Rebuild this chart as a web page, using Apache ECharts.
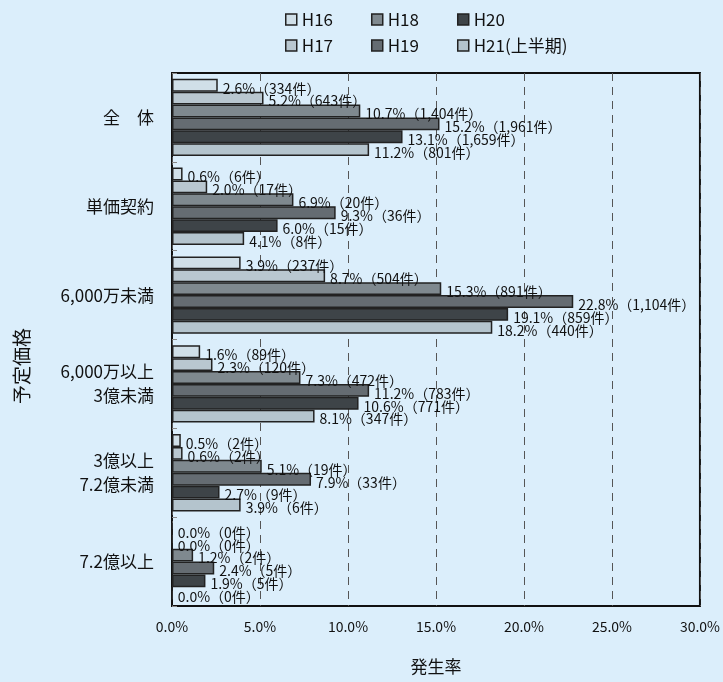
<!DOCTYPE html>
<html>
<head>
<meta charset="utf-8">
<script src="https://cdn.jsdelivr.net/npm/echarts@6/dist/echarts.min.js"></script>
<style>
  html, body { margin: 0; padding: 0; background: #dbeefb; }
  #main { width: 723px; height: 682px; }
</style>
</head>
<body>
<div id="main"></div>
<script>
// 予定価格の区分
var categories = ['全\u3000体', '単価契約', '6,000万未満', '6,000万以上\n3億未満', '3億以上\n7.2億未満', '7.2億以上'];
var seriesNames = ['H16', 'H17', 'H18', 'H19', 'H20', 'H21(上半期)'];
// 発生率(%)
var rateH16 = [2.6, 0.6, 3.9, 1.6, 0.5, 0.0];
var rateH17 = [5.2, 2.0, 8.7, 2.3, 0.6, 0.0];
var rateH18 = [10.7, 6.9, 15.3, 7.3, 5.1, 1.2];
var rateH19 = [15.2, 9.3, 22.8, 11.2, 7.9, 2.4];
var rateH20 = [13.1, 6.0, 19.1, 10.6, 2.7, 1.9];
var rateH21 = [11.2, 4.1, 18.2, 8.1, 3.9, 0.0];
// 件数
var countH16 = ['334', '6', '237', '89', '2', '0'];
var countH17 = ['643', '17', '504', '120', '2', '0'];
var countH18 = ['1,404', '20', '891', '472', '19', '2'];
var countH19 = ['1,961', '36', '1,104', '783', '33', '5'];
var countH20 = ['1,659', '15', '859', '771', '9', '5'];
var countH21 = ['801', '8', '440', '347', '6', '0'];
var xTicks = ['0.0%', '5.0%', '10.0%', '15.0%', '20.0%', '25.0%', '30.0%'];

var rates = [rateH16, rateH17, rateH18, rateH19, rateH20, rateH21];
var counts = [countH16, countH17, countH18, countH19, countH20, countH21];
var colors = ['#d0dfe8', '#b9c7d0', '#7f898f', '#656c72', '#3e4448', '#b4c4cd'];

var font = '"Noto Sans CJK JP", "Noto Sans", sans-serif';

var series = []
for (var i = 0; i < seriesNames.length; i++) {
  (function (k) {
    series.push({
      name: seriesNames[k],
      type: 'bar',
      barGap: '0%',
      barCategoryGap: '13%',
      itemStyle: {
        color: colors[k],
        borderColor: '#222',
        borderWidth: 1.5
      },
      label: {
        show: true,
        position: 'right',
        distance: 5,
        offset: [0, 3],
        color: '#111',
        fontFamily: font,
        fontSize: 14,
        formatter: function (p) {
          return rates[k][p.dataIndex].toFixed(1) + '%（' + counts[k][p.dataIndex] + '件）'
        }
      },
      data: rates[k]
    })
  })(i)
}

var chart = echarts.init(document.getElementById('main'));
var legendCommon = {
  left: 280,
  itemWidth: 11,
  itemHeight: 11,
  itemGap: 38,
  icon: 'rect',
  itemStyle: { borderColor: '#222', borderWidth: 1.5 },
  textStyle: { fontFamily: font, fontSize: 17, color: '#111' }
}
var option = {
  backgroundColor: '#dbeefb',
  animation: false,
  legend: [
    Object.assign({ top: 6, data: [seriesNames[0], seriesNames[2], seriesNames[4]] }, legendCommon),
    Object.assign({ top: 32, data: [seriesNames[1], seriesNames[3], seriesNames[5]] }, legendCommon)
  ],
  grid: {
    left: 172,
    right: 22,
    top: 73,
    bottom: 76,
    show: true,
    borderColor: '#111',
    borderWidth: 2,
    backgroundColor: 'transparent'
  },
  xAxis: {
    type: 'value',
    min: 0,
    max: 30,
    interval: 5,
    name: '発生率',
    nameLocation: 'middle',
    nameGap: 52,
    nameTextStyle: { fontFamily: font, fontSize: 17, color: '#111' },
    axisLine: { show: false },
    axisTick: { show: false },
    axisLabel: {
      margin: 14,
      fontFamily: font,
      fontSize: 14,
      color: '#111',
      formatter: function (v) { return xTicks[Math.round(v / 5)] }
    },
    splitLine: { lineStyle: { color: '#555', type: [8, 6], width: 1 } }
  },
  yAxis: {
    type: 'category',
    inverse: true,
    data: categories,
    axisLine: { show: false },
    axisTick: { show: true, inside: true, length: 5, lineStyle: { color: '#888' } },
    axisLabel: {
      margin: 18,
      fontFamily: font,
      fontSize: 17,
      lineHeight: 24,
      color: '#111',
      align: 'right'
    }
  },
  graphic: [{
    type: 'text',
    x: 12,
    y: 366,
    rotation: Math.PI / 2,
    style: {
      text: '予定価格',
      fontFamily: font,
      fontSize: 19,
      fill: '#111',
      align: 'center',
      verticalAlign: 'top'
    }
  }],
  series: series
};
chart.setOption(option);
</script>
</body>
</html>
